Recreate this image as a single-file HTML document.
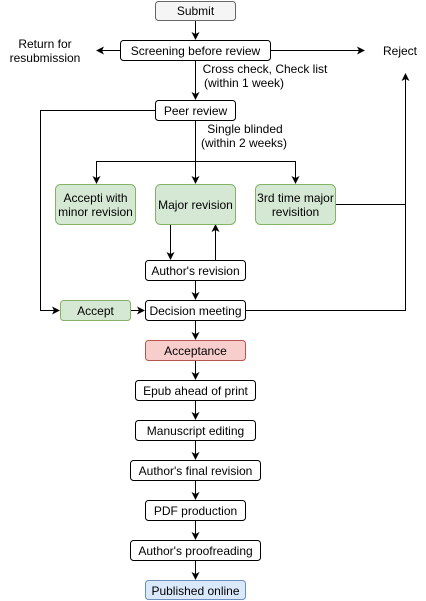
<!DOCTYPE html>
<html><head><meta charset="utf-8"><style>
html,body{margin:0;padding:0;background:#fff;}
svg{display:block;}
text{font-family:"Liberation Sans",Helvetica,Arial,sans-serif;font-size:12px;fill:#000;}
</style></head><body>
<svg width="426" height="601" viewBox="0 0 426 601" xmlns="http://www.w3.org/2000/svg">
<defs>
<marker id="a" markerWidth="8" markerHeight="8" refX="7" refY="4" orient="auto" markerUnits="userSpaceOnUse">
<path d="M0,0 L8,4 L0,8 L2,4 z" fill="#000"/>
</marker>
</defs>
<g stroke="#000" stroke-width="1" fill="none">
<line x1="195.5" y1="20" x2="195.5" y2="39" marker-end="url(#a)"/>
<line x1="120" y1="50.5" x2="97" y2="50.5" marker-end="url(#a)"/>
<line x1="270" y1="50.5" x2="364" y2="50.5" marker-end="url(#a)"/>
<line x1="195.5" y1="60" x2="195.5" y2="99" marker-end="url(#a)"/>
<line x1="195.5" y1="120" x2="195.5" y2="183" marker-end="url(#a)"/>
<polyline points="96.5,183 96.5,161.5 295.5,161.5 295.5,183" marker-end="url(#a)"/>
<line x1="96.5" y1="175" x2="96.5" y2="183" marker-end="url(#a)"/>
<polyline points="335,204.5 405.5,204.5 405.5,74" marker-end="url(#a)"/>
<polyline points="245,310.5 405.5,310.5 405.5,204"/>
<polyline points="155,110.5 40.5,110.5 40.5,310.5 59,310.5" marker-end="url(#a)"/>
<polyline points="170.5,224 170.5,259" marker-end="url(#a)"/>
<polyline points="215.5,260 215.5,225" marker-end="url(#a)"/>
<line x1="195.5" y1="280" x2="195.5" y2="299" marker-end="url(#a)"/>
<line x1="130" y1="310.5" x2="144" y2="310.5" marker-end="url(#a)"/>
<line x1="195.5" y1="320" x2="195.5" y2="339" marker-end="url(#a)"/>
<line x1="195.5" y1="360" x2="195.5" y2="379" marker-end="url(#a)"/>
<line x1="195.5" y1="400" x2="195.5" y2="419" marker-end="url(#a)"/>
<line x1="195.5" y1="440" x2="195.5" y2="459" marker-end="url(#a)"/>
<line x1="195.5" y1="480" x2="195.5" y2="499" marker-end="url(#a)"/>
<line x1="195.5" y1="520" x2="195.5" y2="539" marker-end="url(#a)"/>
<line x1="195.5" y1="560" x2="195.5" y2="579" marker-end="url(#a)"/>
</g>
<g stroke-width="1">
<rect x="155.5" y="1.5" width="80" height="19" rx="3" fill="#f5f5f5" stroke="#666"/>
<rect x="120.5" y="40.5" width="150" height="20" rx="3" fill="#fff" stroke="#000"/>
<rect x="155.5" y="100.5" width="80" height="20" rx="3" fill="#fff" stroke="#000"/>
<rect x="55.5" y="184.5" width="80" height="40" rx="5" fill="#d5e8d4" stroke="#82b366"/>
<rect x="155.5" y="184.5" width="80" height="40" rx="5" fill="#d5e8d4" stroke="#82b366"/>
<rect x="255.5" y="184.5" width="80" height="40" rx="5" fill="#d5e8d4" stroke="#82b366"/>
<rect x="145.5" y="260.5" width="100" height="20" rx="3" fill="#fff" stroke="#000"/>
<rect x="60.5" y="300.5" width="70" height="20" rx="3" fill="#d5e8d4" stroke="#82b366"/>
<rect x="145.5" y="300.5" width="100" height="20" rx="3" fill="#fff" stroke="#000"/>
<rect x="145.5" y="340.5" width="100" height="20" rx="3" fill="#f8cecc" stroke="#b85450"/>
<rect x="135.5" y="380.5" width="120" height="20" rx="3" fill="#fff" stroke="#000"/>
<rect x="135.5" y="420.5" width="120" height="20" rx="3" fill="#fff" stroke="#000"/>
<rect x="130.5" y="460.5" width="130" height="20" rx="3" fill="#fff" stroke="#000"/>
<rect x="145.5" y="500.5" width="100" height="20" rx="3" fill="#fff" stroke="#000"/>
<rect x="130.5" y="540.5" width="130" height="20" rx="3" fill="#fff" stroke="#000"/>
<rect x="145.5" y="580.5" width="100" height="19" rx="3" fill="#dae8fc" stroke="#6c8ebf"/>
</g>
<g text-anchor="middle">
<text x="195.5" y="15" fill="#333">Submit</text>
<text x="195.5" y="55">Screening before review</text>
<text x="45" y="48">Return for</text>
<text x="45" y="62">resubmission</text>
<text x="400" y="55">Reject</text>
<text x="265" y="73">Cross check, Check list</text>
<text x="244" y="87">(within 1 week)</text>
<text x="195.5" y="115">Peer review</text>
<text x="245" y="133">Single blinded</text>
<text x="244" y="147">(within 2 weeks)</text>
<text x="95.5" y="202">Accepti with</text>
<text x="95.5" y="216">minor revision</text>
<text x="195.5" y="209">Major revision</text>
<text x="295.5" y="202">3rd time major</text>
<text x="295.5" y="216">revisition</text>
<text x="195.5" y="275">Author's revision</text>
<text x="95.5" y="315">Accept</text>
<text x="195.5" y="315">Decision meeting</text>
<text x="195.5" y="355">Acceptance</text>
<text x="195.5" y="395">Epub ahead of print</text>
<text x="195.5" y="435">Manuscript editing</text>
<text x="195.5" y="475">Author's final revision</text>
<text x="195.5" y="515">PDF production</text>
<text x="195.5" y="555">Author's proofreading</text>
<text x="195.5" y="595">Published online</text>
</g>
</svg>
</body></html>
